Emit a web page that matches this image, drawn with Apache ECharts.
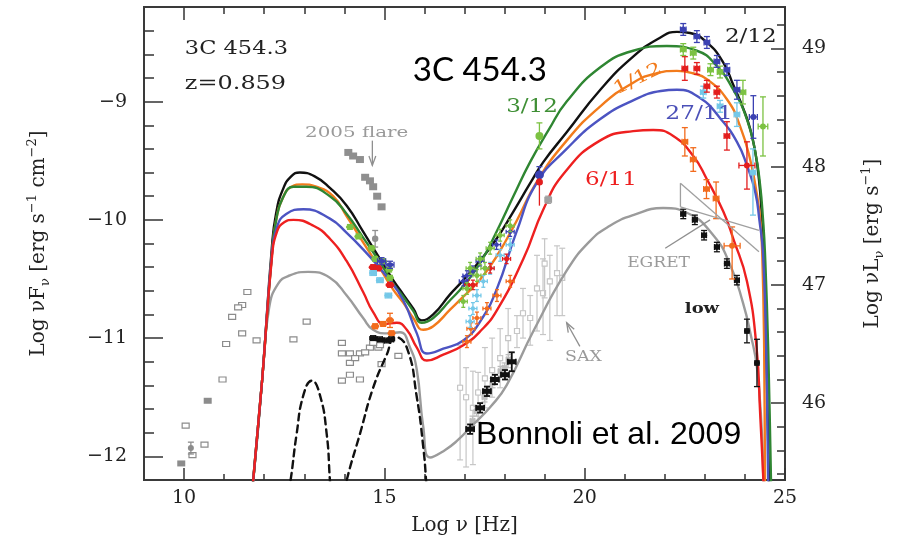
<!DOCTYPE html>
<html>
<head>
<meta charset="utf-8">
<title>3C 454.3 SED</title>
<script src="https://cdn.jsdelivr.net/npm/echarts@6/dist/echarts.min.js"></script>
<style>
  html, body { margin: 0; padding: 0; background: #ffffff; }
  #chart { width: 904px; height: 544px; }
</style>
</head>
<body>
<div id="chart"></div>
<script>
// ---------------------------------------------------------------------------
// Axis ticks and ranges (log nu in Hz, log nuF_nu in erg s^-1 cm^-2)
// ---------------------------------------------------------------------------
const freqRange = [9, 25];
const fluxRange = [-12.2, -8.2];
const freqMajorTicks = [10, 15, 20, 25];
const fluxMajorTicks = [-12, -11, -10, -9];
const lumMajorTicks = [46, 47, 48, 49];
// log nuL_nu = log nuF_nu + lumOffset  (z = 0.859)
const lumOffset = 57.55;

// ---------------------------------------------------------------------------
// Model SEDs: [log nu, log nuF_nu]
// ---------------------------------------------------------------------------
const model0212 = [
  [11.70,-12.30],[11.95,-11.35],[12.19,-10.24],[12.30,-9.94],[12.47,-9.74],[12.68,-9.63],
  [12.89,-9.60],[13.25,-9.63],[13.64,-9.73],[14.06,-9.88],[14.47,-10.10],[14.89,-10.33],
  [15.22,-10.51],[15.47,-10.63],[15.72,-10.75],[15.93,-10.85],[16.22,-10.80],[16.64,-10.63],
  [16.97,-10.51],[17.40,-10.34],[17.80,-10.16],[18.22,-9.93],[18.64,-9.69],[18.97,-9.51],
  [19.55,-9.26],[20.39,-8.90],[21.21,-8.62],[21.88,-8.46],[22.30,-8.41],[22.63,-8.42],
  [23.05,-8.50],[23.46,-8.67],[23.71,-8.86],[23.96,-9.06],[24.13,-9.23],[24.26,-9.43],
  [24.35,-9.66],[24.41,-9.90],[24.46,-10.20],[24.53,-11.08],[24.60,-12.20],[24.61,-12.30]
];
const model0312 = [
  [11.70,-12.30],[11.95,-11.35],[12.19,-10.30],[12.30,-10.00],[12.47,-9.81],[12.73,-9.72],
  [13.05,-9.72],[13.64,-9.80],[14.06,-9.95],[14.47,-10.15],[14.89,-10.36],[15.22,-10.54],
  [15.47,-10.65],[15.72,-10.77],[15.93,-10.87],[16.22,-10.83],[16.64,-10.68],[16.97,-10.56],
  [17.40,-10.36],[17.80,-10.10],[18.22,-9.80],[18.64,-9.51],[19.10,-9.24],[19.55,-9.00],
  [20.39,-8.71],[21.21,-8.57],[22.05,-8.53],[22.80,-8.57],[23.30,-8.70],[23.71,-8.90],
  [24.05,-9.15],[24.26,-9.43],[24.38,-9.71],[24.45,-9.99],[24.50,-10.28],[24.58,-11.08],
  [24.65,-12.20],[24.66,-12.30]
];
const model0112 = [
  [11.70,-12.30],[11.95,-11.35],[12.19,-10.30],[12.30,-10.00],[12.47,-9.81],[12.68,-9.72],
  [12.95,-9.70],[13.30,-9.72],[13.72,-9.80],[14.06,-9.97],[14.47,-10.19],[14.89,-10.41],
  [15.22,-10.59],[15.47,-10.70],[15.72,-10.83],[15.97,-10.93],[16.22,-10.90],[16.64,-10.76],
  [16.97,-10.65],[17.40,-10.50],[17.80,-10.31],[18.30,-10.01],[18.80,-9.68],[19.55,-9.33],
  [20.39,-9.04],[21.21,-8.84],[21.80,-8.76],[22.30,-8.74],[22.70,-8.76],[23.05,-8.81],
  [23.55,-8.98],[23.88,-9.21],[24.13,-9.49],[24.30,-9.79],[24.38,-9.99],[24.43,-10.26],
  [24.48,-11.08],[24.50,-12.20],[24.51,-12.30]
];
const model2711 = [
  [11.70,-12.30],[11.95,-11.35],[12.19,-10.30],[12.32,-10.06],[12.55,-9.95],[12.98,-9.91],
  [13.64,-9.99],[14.06,-10.11],[14.47,-10.25],[15.06,-10.48],[15.47,-10.68],[15.81,-10.96],
  [16.06,-11.13],[16.47,-11.09],[16.97,-11.02],[17.39,-10.86],[17.80,-10.59],[18.30,-10.10],
  [18.80,-9.69],[19.55,-9.40],[20.38,-9.15],[21.21,-8.99],[21.90,-8.91],[22.30,-8.90],
  [22.88,-8.97],[23.38,-9.14],[23.80,-9.34],[24.05,-9.54],[24.26,-9.77],[24.36,-10.00],
  [24.45,-10.28],[24.53,-11.08],[24.58,-12.20],[24.59,-12.30]
];
const model0611 = [
  [11.70,-12.30],[11.95,-11.35],[12.19,-10.33],[12.32,-10.10],[12.50,-10.02],[12.73,-10.00],
  [13.23,-10.05],[13.64,-10.16],[14.06,-10.35],[14.47,-10.61],[14.72,-10.78],[15.00,-10.88],
  [15.31,-10.87],[15.56,-10.93],[15.81,-11.08],[16.06,-11.19],[16.47,-11.14],[16.97,-11.06],
  [17.40,-10.94],[17.80,-10.77],[18.47,-10.33],[18.97,-9.91],[19.50,-9.60],[20.38,-9.33],
  [21.21,-9.25],[21.71,-9.24],[22.21,-9.29],[22.71,-9.46],[23.04,-9.65],[23.46,-9.93],
  [23.71,-10.16],[24.05,-10.52],[24.29,-11.08],[24.38,-11.64],[24.46,-12.20],[24.47,-12.30]
];
const modelLow = [
  [11.70,-12.30],[11.95,-11.35],[12.12,-10.75],[12.35,-10.54],[12.64,-10.47],[13.10,-10.44],
  [13.64,-10.49],[14.06,-10.64],[14.47,-10.83],[14.72,-10.93],[15.06,-10.96],[15.39,-10.95],
  [15.64,-11.08],[15.81,-11.27],[15.97,-11.75],[16.14,-12.01],[16.50,-11.95],[16.81,-11.87],
  [17.22,-11.73],[17.65,-11.58],[18.05,-11.40],[18.72,-10.94],[19.55,-10.43],[20.13,-10.18],
  [20.63,-10.05],[21.21,-9.96],[21.96,-9.90],[22.55,-9.94],[23.21,-10.13],[23.63,-10.38],
  [23.95,-10.70],[24.15,-10.98],[24.30,-11.25],[24.42,-11.78],[24.46,-12.20],[24.47,-12.30]
];
// Torus (IR) and accretion disk components
const torusBump = [
  [12.60,-12.30],[12.66,-12.20],[12.81,-11.81],[12.98,-11.48],[13.19,-11.36],
  [13.39,-11.48],[13.56,-11.81],[13.64,-12.20],[13.66,-12.30]
];
const diskBump = [
  [14.02,-12.30],[14.06,-12.20],[14.39,-11.81],[14.72,-11.42],[15.06,-11.14],[15.27,-10.99],
  [15.56,-11.08],[15.81,-11.50],[15.97,-11.92],[16.04,-12.20],[16.05,-12.30]
];

// ---------------------------------------------------------------------------
// Observations: [log nu, log nuF_nu, err down, err up, half-width in log nu]
// ---------------------------------------------------------------------------
const archivalOpen = [
  [11.58,-10.61],[11.45,-10.72],[11.35,-10.74],[11.20,-10.82],[11.45,-10.96],[11.05,-11.05],
  [11.81,-11.02],[10.96,-11.35],[10.04,-11.74],[10.51,-11.90],[10.21,-11.99],[13.06,-10.86],
  [12.73,-11.01],[13.94,-11.04],[13.94,-11.13],[14.14,-11.13],[14.39,-11.13],[14.85,-11.08],
  [14.93,-11.22],[14.14,-11.21],[14.27,-11.17],[14.14,-11.31],[14.39,-11.35],[13.94,-11.36],
  [15.35,-11.15],[14.89,-11.06],[14.64,-11.08],[14.72,-11.04],[14.52,-11.12]
];
const radioFilled = [[9.93,-12.06],[10.59,-11.53]];
const radioCircle = [[10.17,-11.93,0.05,0.05,0]];
const flare2005 = [
  [14.10,-9.43],[14.22,-9.46],[14.39,-9.49],[14.52,-9.64],[14.64,-9.67],
  [14.72,-9.72],[14.82,-9.80],[14.93,-9.89]
];
const flareCircle = [[14.77,-10.16,0.07,0.07,0]];

// optical / UV
const optGreen = [[14.14,-10.06],[14.35,-10.14],[14.68,-10.24],[14.77,-10.33],[14.97,-10.35],[15.12,-10.42],[15.14,-10.49]];
const optRed = [[14.72,-10.40],[14.84,-10.41],[15.14,-10.55]];
const optBlue = [[14.93,-10.35],[15.14,-10.38]];
const optCyan = [[14.72,-10.45],[14.89,-10.51],[15.10,-10.64]];
const optOrange = [[14.77,-10.90],[14.97,-10.88],[15.14,-10.85,0.06,0.06,0.04],[15.18,-10.96]];
const optLow = [[14.72,-11.00],[14.89,-11.01],[15.06,-11.02],[15.17,-11.01]];

// X-rays
const xGreen = [[16.97,-10.69],[17.06,-10.58],[17.14,-10.41],[17.31,-10.47],[17.39,-10.33],[17.51,-10.41],[17.64,-10.24],[17.89,-10.13],[18.14,-10.05]];
const xBlue = [[16.97,-10.52],[17.06,-10.47],[17.21,-10.43],[17.39,-10.35],[17.80,-10.21],[18.14,-10.10]];
const xRed = [[17.09,-10.55],[17.21,-10.55],[17.64,-10.41],[18.05,-10.33]];
const xCyan = [[17.14,-10.86],[17.21,-10.75],[17.31,-10.64],[17.47,-10.52],[17.64,-10.41],[17.89,-10.30],[18.14,-10.21]];
const xOrange = [[17.06,-11.03],[17.16,-10.92],[17.31,-10.83],[17.56,-10.75],[17.81,-10.64],[18.14,-10.52]];
const xLow = [[17.14,-11.77],[17.39,-11.59],[17.56,-11.45],[17.76,-11.35],[18.01,-11.31],[18.18,-11.20,0.08,0.08,0.1]];
const xSwiftLow = [[17.20,-11.70],[17.30,-11.62],[17.50,-11.50],[17.60,-11.45],[17.70,-11.38],[17.90,-11.28],[18.00,-11.25],[18.10,-11.18]];
const xSax = [
  [16.89,-11.42,0.61,0.36,0.03],[17.04,-11.50,0.59,0.25,0.03],[17.21,-11.59,0.48,0.31,0.03],
  [17.34,-11.46,0.25,0.17,0.03],[17.51,-11.34,0.25,0.26,0.03],[17.69,-11.27,0.23,0.27,0.03],
  [17.89,-11.17,0.25,0.25,0.03],[18.09,-11.00,0.25,0.25,0.03],[18.31,-10.94,0.14,0.13,0.03],
  [18.46,-10.79,0.21,0.21,0.03],[18.64,-10.83,0.23,0.19,0.03],[18.81,-10.58,0.36,0.28,0.03],
  [18.96,-10.62,0.35,0.29,0.03],[19.00,-10.37,0.29,0.21,0.03],[19.13,-10.52,0.50,0.22,0.03],
  [19.31,-10.45,0.36,0.23,0.03],[19.44,-10.49,0.32,0.25,0.03]
];
// hard X-rays
const hxGreen = [[18.87,-9.29,0.11,0.11,0]];
const hxBlue = [[18.87,-9.62,0.07,0.07,0]];
const hxRed = [[18.87,-9.68,0.20,0.03,0]];
const hxLow = [[19.09,-9.83,0.03,0.03,0.08]];

// gamma-rays
const gNavy = [[22.46,-8.39],[22.80,-8.45],[23.05,-8.50],[23.30,-8.66],[23.55,-8.73],[23.80,-8.90,0.08,0.08,0.07],[24.21,-9.13,0.18,0.18,0.10]];
const gLime = [[22.46,-8.56],[22.71,-8.59],[23.14,-8.73],[23.38,-8.75],[23.95,-8.92,0.10,0.10,0.07],[24.45,-9.21,0.25,0.25,0.12]];
const gRed = [[22.50,-8.72,0.10,0.10,0.07],[22.80,-8.72],[23.05,-8.87],[23.30,-8.92],[23.55,-9.29,0.12,0.12,0.07],[24.05,-9.54,0.20,0.20,0.20]];
const gCyan = [[22.96,-8.92],[23.38,-9.04],[23.80,-9.11,0.10,0.10,0.07],[24.20,-9.60,0.36,0.20,0.07]];
const gOrange = [[22.50,-9.34,0.12,0.12,0.07],[22.71,-9.49,0.10,0.10,0.07],[23.04,-9.74,0.08,0.08,0.07],[23.28,-9.82,0.17,0.14,0.07],[23.68,-10.22,0.28,0.16,0.20]];
const gLow = [[22.46,-9.95],[22.75,-10.00],[22.98,-10.13],[23.30,-10.23],[23.55,-10.37],[23.80,-10.51],[24.05,-10.94,0.10,0.10,0.05],[24.30,-11.21,0.20,0.20,0.05]];
// EGRET bow-tie: [nu1, F1, nu2, F2]
const egretBowtie = [[22.39,-9.69,24.35,-10.27],[22.39,-9.89,24.35,-10.09],[22.39,-9.69,22.39,-9.89]];

// ---------------------------------------------------------------------------
const FONT = 'DejaVu Serif';
const INK = '#222222';
const COL = {
  m0212: '#111111', m0312: '#2f8632', m0112: '#f27b1c', m2711: '#4c54c2', m0611: '#ee2020',
  low: '#9b9b9b', lime: '#7cc242', cyan: '#74c8e8', navy: '#3b41b2', orange: '#f26b1d',
  red: '#e31e1e', black: '#111111', gray: '#9a9a9a', lightGray: '#c6c6c6'
};

function steps(a, b, step) {
  const out = [];
  for (let v = a; v <= b + 1e-9; v += step) out.push(Math.round(v * 10) / 10);
  return out;
}
const freqMinorTicks = steps(10, 24, 1);
const fluxMinorTicks = steps(-12, -8.4, 0.2);
const lumMinorTicks = steps(45.4, 49.2, 0.2);
const signed = v => (v < 0 ? '\u2212' : '') + Math.abs(v);

const tickLine = { color: '#333333', width: 1.5 };
const labelFont = { fontFamily: FONT, fontSize: 19, color: INK };
const nameRich = {
  sub: { fontFamily: FONT, fontSize: 13, color: INK, verticalAlign: 'bottom', lineHeight: 26 },
  sup: { fontFamily: FONT, fontSize: 13, color: INK, verticalAlign: 'top', lineHeight: 26 }
};
const nameStyle = { fontFamily: FONT, fontSize: 20, color: INK, lineHeight: 26, rich: nameRich };

function tickAxis(extra) {
  return Object.assign({
    type: 'value', axisLine: { show: false }, splitLine: { show: false },
    axisLabel: { show: false }
  }, extra);
}

// ---------------------------------------------------------------------------
// Text annotations placed in data coordinates
const annotations = [
  { text: '3C 454.3', at: [10.02, -8.56], size: 18, scaleX: 1.25, color: INK },
  { text: 'z=0.859', at: [10.02, -8.85], size: 18, scaleX: 1.33, color: INK },
  { text: '2005 flare', at: [13.02, -9.27], size: 14, scaleX: 1.42, color: COL.gray },
  { text: '3/12', at: [18.04, -9.05], size: 18, scaleX: 1.28, color: '#3f8f35' },
  { text: '1/12', at: [21.33, -8.81], size: 18, scaleX: 1.28, color: COL.m0112, rotate: 26, align: 'center' },
  { text: '27/11', at: [22.01, -9.11], size: 18, scaleX: 1.3, color: '#4b50b8' },
  { text: '6/11', at: [20.01, -9.67], size: 18, scaleX: 1.28, color: COL.m0611 },
  { text: '2/12', at: [23.50, -8.46], size: 18, scaleX: 1.28, color: INK },
  { text: 'EGRET', at: [21.06, -10.37], size: 14, scaleX: 1.22, color: COL.gray },
  { text: 'SAX', at: [19.51, -11.16], size: 14, scaleX: 1.24, color: COL.gray },
  { text: 'low', at: [22.50, -10.76], size: 14, scaleX: 1.28, color: INK, weight: 'bold' },
  { text: '3C 454.3', at: [15.71, -8.74], size: 33, color: '#000000', family: 'Lato' },
  { text: 'Bonnoli et al. 2009', at: [17.29, -11.82], size: 32, color: '#000000', family: 'Liberation Sans' }
];
// Pointers: [nu1, F1, nu2, F2, arrow head]
const pointers = [
  [14.70, -9.33, 14.70, -9.54, 1],
  [19.88, -11.07, 19.55, -10.87, 1],
  [22.01, -10.24, 23.13, -10.00, 0]
];

// ---------------------------------------------------------------------------
function modelLine(data, color, dashed, z) {
  return {
    type: 'line', data: data, xAxisIndex: 0, yAxisIndex: 0, showSymbol: false, symbol: 'none',
    smooth: 0.5, clip: true, silent: true, z: z,
    lineStyle: { color: color, width: 2.4, type: dashed ? [7, 5] : 'solid', join: 'round', cap: 'round' }
  };
}

function pointSeries(points, color, opt) {
  opt = opt || {};
  const dn0 = opt.dn || 0, up0 = opt.up || 0, ex0 = opt.ex || 0;
  return {
    type: 'custom', xAxisIndex: 0, yAxisIndex: 0, clip: true, silent: true, z: opt.z || 6,
    data: points.map(p => [p[0], p[1],
      p.length > 2 ? p[2] : dn0, p.length > 3 ? p[3] : up0, p.length > 4 ? p[4] : ex0]),
    encode: { x: 0, y: 1 },
    renderItem: function (params, api) {
      const x = api.value(0), y = api.value(1);
      const dn = api.value(2), up = api.value(3), ex = api.value(4);
      const c = api.coord([x, y]);
      const st = { stroke: color, lineWidth: opt.lw || 1.3 };
      const cap = opt.cap === undefined ? 3 : opt.cap;
      const kids = [];
      if (dn > 0 || up > 0) {
        const top = api.coord([x, y + up])[1], bot = api.coord([x, y - dn])[1];
        kids.push({ type: 'line', shape: { x1: c[0], y1: top, x2: c[0], y2: bot }, style: st });
        if (cap > 0) {
          kids.push({ type: 'line', shape: { x1: c[0] - cap, y1: top, x2: c[0] + cap, y2: top }, style: st });
          kids.push({ type: 'line', shape: { x1: c[0] - cap, y1: bot, x2: c[0] + cap, y2: bot }, style: st });
        }
      }
      if (ex > 0) {
        const l = api.coord([x - ex, y])[0], r = api.coord([x + ex, y])[0];
        kids.push({ type: 'line', shape: { x1: l, y1: c[1], x2: r, y2: c[1] }, style: st });
        if (cap > 0) {
          kids.push({ type: 'line', shape: { x1: l, y1: c[1] - cap, x2: l, y2: c[1] + cap }, style: st });
          kids.push({ type: 'line', shape: { x1: r, y1: c[1] - cap, x2: r, y2: c[1] + cap }, style: st });
        }
      }
      const shape = opt.shape || 'circle';
      const w = opt.w || 7, h = opt.h || 6;
      if (shape === 'circle') {
        kids.push({ type: 'circle', shape: { cx: c[0], cy: c[1], r: opt.r || 3 }, style: { fill: color } });
      } else if (shape === 'ellipse') {
        kids.push({ type: 'ellipse', shape: { cx: c[0], cy: c[1], rx: w / 2, ry: h / 2 }, style: { fill: color } });
      } else if (shape === 'rect') {
        kids.push({ type: 'rect', shape: { x: c[0] - w / 2, y: c[1] - h / 2, width: w, height: h }, style: { fill: color } });
      } else if (shape === 'open') {
        kids.push({ type: 'rect', shape: { x: c[0] - w / 2, y: c[1] - h / 2, width: w, height: h },
          style: { fill: '#ffffff', stroke: color, lineWidth: 1.2 } });
      }
      return { type: 'group', children: kids };
    }
  };
}

function segmentSeries(segs, color, withHeads) {
  return {
    type: 'custom', xAxisIndex: 0, yAxisIndex: 0, clip: true, silent: true, z: 7,
    data: segs.map(s => [s[0], s[1], s[2], s[3], withHeads ? (s[4] || 0) : 0]),
    encode: { x: [0, 2], y: [1, 3] },
    renderItem: function (params, api) {
      const a = api.coord([api.value(0), api.value(1)]);
      const b = api.coord([api.value(2), api.value(3)]);
      const st = { stroke: color, lineWidth: 1.3 };
      const kids = [{ type: 'line', shape: { x1: a[0], y1: a[1], x2: b[0], y2: b[1] }, style: st }];
      if (api.value(4)) {
        const ang = Math.atan2(b[1] - a[1], b[0] - a[0]);
        const L = 10, spread = 0.35;
        kids.push({ type: 'polyline', shape: { points: [
          [b[0] - L * Math.cos(ang - spread), b[1] - L * Math.sin(ang - spread)],
          [b[0], b[1]],
          [b[0] - L * Math.cos(ang + spread), b[1] - L * Math.sin(ang + spread)]
        ] }, style: { stroke: color, lineWidth: 1.3, fill: null } });
      }
      return { type: 'group', children: kids };
    }
  };
}

const textSeries = {
  type: 'custom', xAxisIndex: 0, yAxisIndex: 0, clip: false, silent: true, z: 20,
  data: annotations.map(a => a.at),
  encode: { x: 0, y: 1 },
  renderItem: function (params, api) {
    const a = annotations[params.dataIndex];
    const c = api.coord([api.value(0), api.value(1)]);
    return {
      type: 'text', x: c[0], y: c[1],
      rotation: (a.rotate || 0) * Math.PI / 180,
      scaleX: a.scaleX || 1, scaleY: 1,
      style: {
        text: a.text, fill: a.color, fontFamily: a.family || FONT, fontSize: a.size,
        fontWeight: a.weight || 'normal', align: a.align || 'left', verticalAlign: 'middle'
      }
    };
  }
};

const chart = echarts.init(document.getElementById('chart'), null, { renderer: 'canvas' });

chart.setOption({
  animation: false,
  backgroundColor: '#ffffff',
  grid: {
    left: 144, top: 7, width: 641, height: 475, containLabel: false,
    show: true, borderColor: '#3a3a3a', borderWidth: 2, backgroundColor: 'transparent'
  },
  xAxis: [
    tickAxis({
      min: freqRange[0], max: freqRange[1], position: 'bottom',
      axisTick: { inside: true, length: 12, customValues: freqMajorTicks, lineStyle: tickLine },
      axisLabel: Object.assign({ show: true, customValues: freqMajorTicks, margin: 9 }, labelFont),
      name: 'Log \u03bd [Hz]', nameLocation: 'middle', nameGap: 33, nameTextStyle: nameStyle
    }),
    tickAxis({
      min: freqRange[0], max: freqRange[1], position: 'bottom',
      axisTick: { inside: true, length: 6, customValues: freqMinorTicks, lineStyle: tickLine }
    }),
    tickAxis({
      min: freqRange[0], max: freqRange[1], position: 'top',
      axisTick: { inside: true, length: 13, customValues: freqMajorTicks, lineStyle: tickLine }
    }),
    tickAxis({
      min: freqRange[0], max: freqRange[1], position: 'top',
      axisTick: { inside: true, length: 7, customValues: freqMinorTicks, lineStyle: tickLine }
    })
  ],
  yAxis: [
    tickAxis({
      min: fluxRange[0], max: fluxRange[1], position: 'left',
      axisTick: { inside: true, length: 19, customValues: fluxMajorTicks, lineStyle: tickLine },
      axisLabel: Object.assign({ show: true, customValues: fluxMajorTicks, margin: 17, formatter: signed }, labelFont),
      name: 'Log \u03bdF{sub|\u03bd} [erg s{sup|\u22121} cm{sup|\u22122}]',
      nameLocation: 'middle', nameGap: 92, nameRotate: 90, nameTextStyle: nameStyle
    }),
    tickAxis({
      min: fluxRange[0], max: fluxRange[1], position: 'left',
      axisTick: { inside: true, length: 10, customValues: fluxMinorTicks, lineStyle: tickLine }
    }),
    tickAxis({
      min: fluxRange[0] + lumOffset, max: fluxRange[1] + lumOffset, position: 'right',
      axisTick: { inside: true, length: 14, customValues: lumMajorTicks, lineStyle: tickLine },
      axisLabel: Object.assign({ show: true, customValues: lumMajorTicks, margin: 17 }, labelFont),
      name: 'Log \u03bdL{sub|\u03bd} [erg s{sup|\u22121}]',
      nameLocation: 'middle', nameGap: 75, nameRotate: 90, nameTextStyle: nameStyle
    }),
    tickAxis({
      min: fluxRange[0] + lumOffset, max: fluxRange[1] + lumOffset, position: 'right',
      axisTick: { inside: true, length: 8, customValues: lumMinorTicks, lineStyle: tickLine }
    })
  ],
  series: [
    // archival and low-state data under the models
    pointSeries(archivalOpen, '#8c8c8c', { shape: 'open', w: 7, h: 5, z: 3 }),
    pointSeries(radioFilled, '#8c8c8c', { shape: 'rect', w: 8, h: 6, z: 3 }),
    pointSeries(radioCircle, '#8c8c8c', { r: 3, z: 3 }),
    pointSeries(flare2005, '#8f8f8f', { shape: 'rect', w: 8, h: 7, z: 3 }),
    pointSeries(flareCircle, '#8f8f8f', { r: 3.2, z: 3 }),
    pointSeries(xSax, COL.lightGray, { shape: 'open', w: 5, h: 5, z: 3, lw: 1.2 }),
    pointSeries(xSwiftLow, '#bdbdbd', { shape: 'rect', w: 6, h: 5, dn: 0.04, up: 0.04, ex: 0.05, z: 3 }),
    segmentSeries(egretBowtie, '#a0a0a0', false),

    modelLine(modelLow, COL.low, false, 4),
    modelLine(torusBump, '#111111', true, 4),
    modelLine(diskBump, '#111111', true, 4),
    modelLine(model0212, COL.m0212, false, 4),
    modelLine(model0112, COL.m0112, false, 4),
    modelLine(model0312, COL.m0312, false, 4),
    modelLine(model2711, COL.m2711, false, 4),
    modelLine(model0611, COL.m0611, false, 4),

    // optical / UV
    pointSeries(optGreen, COL.lime, { shape: 'ellipse', w: 8, h: 5, dn: 0.02, up: 0.02, ex: 0.04 }),
    pointSeries(optBlue, COL.navy, { shape: 'ellipse', w: 7, h: 5, dn: 0.03, up: 0.03, ex: 0.1 }),
    pointSeries(optRed, COL.red, { shape: 'ellipse', w: 9, h: 6, dn: 0.02, up: 0.02, ex: 0.04 }),
    pointSeries(optCyan, COL.cyan, { shape: 'ellipse', w: 8, h: 5, dn: 0.02, up: 0.02, ex: 0.08 }),
    pointSeries(optOrange, COL.orange, { shape: 'ellipse', w: 8, h: 6, dn: 0.02, up: 0.02, ex: 0.05 }),
    pointSeries(optLow, COL.black, { shape: 'rect', w: 8, h: 4, dn: 0.02, up: 0.02, ex: 0.06 }),

    // X-rays
    pointSeries(xOrange, COL.orange, { r: 2.2, dn: 0.05, up: 0.05, ex: 0.1, cap: 2 }),
    pointSeries(xCyan, COL.cyan, { r: 2.2, dn: 0.05, up: 0.05, ex: 0.1, cap: 2 }),
    pointSeries(xRed, COL.red, { r: 2.5, dn: 0.04, up: 0.04, ex: 0.1, cap: 2 }),
    pointSeries(xBlue, COL.navy, { r: 2.2, dn: 0.04, up: 0.04, ex: 0.1, cap: 2 }),
    pointSeries(xGreen, COL.lime, { r: 2.5, dn: 0.05, up: 0.05, ex: 0.1, cap: 2 }),
    pointSeries(xLow, COL.black, { shape: 'rect', w: 8, h: 5, dn: 0.04, up: 0.04, ex: 0.1, lw: 1.8 }),
    pointSeries(hxGreen, COL.lime, { r: 4 }),
    pointSeries(hxBlue, COL.navy, { r: 4.5 }),
    pointSeries(hxRed, COL.red, { r: 3.5, cap: 0 }),
    pointSeries(hxLow, '#a0a0a0', { shape: 'rect', w: 7, h: 6 }),

    // gamma-rays
    pointSeries(gLow, COL.black, { r: 3, dn: 0.04, up: 0.04, ex: 0.06 }),
    pointSeries(gOrange, COL.orange, { r: 3, dn: 0.1, up: 0.1, ex: 0.07 }),
    pointSeries(gCyan, COL.cyan, { r: 3, dn: 0.05, up: 0.05, ex: 0.07 }),
    pointSeries(gRed, COL.red, { r: 3, dn: 0.05, up: 0.05, ex: 0.07 }),
    pointSeries(gLime, COL.lime, { r: 3, dn: 0.05, up: 0.05, ex: 0.07 }),
    pointSeries(gNavy, COL.navy, { r: 3, dn: 0.05, up: 0.05, ex: 0.07 }),

    segmentSeries(pointers, '#8f8f8f', true),
    textSeries
  ]
});
</script>
</body>
</html>
